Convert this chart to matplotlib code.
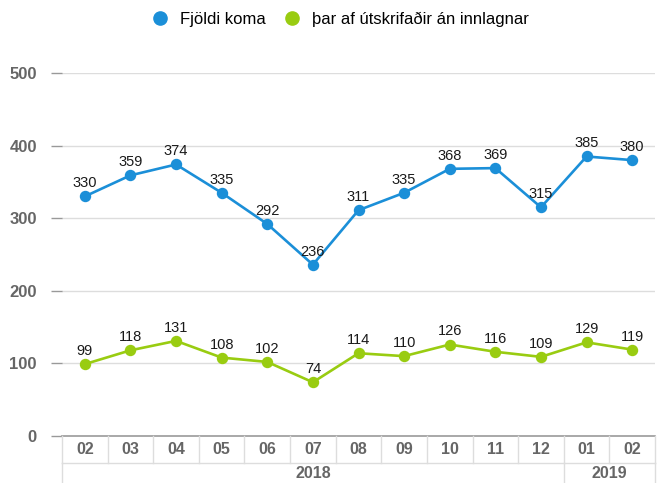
import matplotlib
matplotlib.use("Agg")
import matplotlib.pyplot as plt
from matplotlib.lines import Line2D

months = ["02", "03", "04", "05", "06", "07", "08", "09", "10", "11", "12", "01", "02"]
years = ["2018", "2019"]
year_counts = [11, 2]
fjoldi_koma = [330, 359, 374, 335, 292, 236, 311, 335, 368, 369, 315, 385, 380]
utskrifadir = [99, 118, 131, 108, 102, 74, 114, 110, 126, 116, 109, 129, 119]
series_names = ["Fjöldi koma", "þar af útskrifaðir án innlagnar"]
y_ticks = [0, 100, 200, 300, 400, 500]

blue = "#1b8fd8"
green = "#99cc11"
grid_c = "#dddddd"
text_c = "#666666"

plt.rcParams['font.family'] = ['Liberation Sans', 'DejaVu Sans']

W, H = 671, 483
fig = plt.figure(figsize=(W / 100, H / 100), dpi=100)
x0, x1 = 62, 655
y0, y1 = 436, 73
ax = fig.add_axes([x0 / W, 1 - y0 / H, (x1 - x0) / W, (y0 - y1) / H])

n = len(months)
xs = list(range(n))
ax.set_xlim(-0.5, n - 0.5)
ax.set_ylim(0, 500)

for yt in y_ticks[1:]:
    ax.axhline(yt, color=grid_c, lw=1, zorder=0)
ax.axhline(0, color="#999999", lw=1.2, zorder=1, clip_on=False)

for vals, col in [(fjoldi_koma, blue), (utskrifadir, green)]:
    ax.plot(xs, vals, color=col, lw=1.9, marker="o", ms=7.2, zorder=3, clip_on=False)
    for x, v in zip(xs, vals):
        ax.annotate(str(v), (x, v), xytext=(0, 6.5), textcoords="offset points",
                    ha="center", va="baseline", fontsize=10.5, color="#1a1a1a", zorder=4)

ax.set_yticks(y_ticks)
ax.set_yticklabels([str(t) for t in y_ticks], fontsize=12, fontweight="bold", color=text_c)
ax.tick_params(axis="y", length=8, width=1, color="#999999", pad=10, direction="out")
ax.tick_params(axis="x", bottom=False, labelbottom=False)
for s in ax.spines.values():
    s.set_visible(False)

# category boxes (figure pixel coords)
def fx(px):
    return px / W

def fy(py):
    return 1 - py / H

cw = (x1 - x0) / n
row1_top, row1_bot, row2_bot = 436, 463, 483
line_kw = dict(color=grid_c, lw=1, transform=fig.transFigure)
fig.add_artist(Line2D([fx(x0), fx(x1)], [fy(row1_bot), fy(row1_bot)], **line_kw))
for i in range(n + 1):
    px = x0 + i * cw
    fig.add_artist(Line2D([fx(px), fx(px)], [fy(row1_top), fy(row1_bot)], **line_kw))
for i, m in enumerate(months):
    fig.text(fx(x0 + (i + 0.5) * cw), fy((row1_top + row1_bot) / 2), m, ha="center", va="center",
             fontsize=11.5, fontweight="bold", color=text_c)
bounds = [0]
for c in year_counts:
    bounds.append(bounds[-1] + c)
for b in bounds:
    px = x0 + b * cw
    fig.add_artist(Line2D([fx(px), fx(px)], [fy(row1_bot), fy(row2_bot)], **line_kw))
for yname, a, b in zip(years, bounds[:-1], bounds[1:]):
    fig.text(fx(x0 + (a + b) / 2 * cw), fy((row1_bot + row2_bot) / 2 + 1), yname, ha="center", va="center",
             fontsize=11.5, fontweight="bold", color=text_c)

handles = [Line2D([], [], color=blue, marker="o", ls="none", ms=9.5),
           Line2D([], [], color=green, marker="o", ls="none", ms=9.5)]
fig.legend(handles, series_names, loc="center", bbox_to_anchor=(340 / W, 1 - 19 / H), ncol=2,
           frameon=False, fontsize=12, handletextpad=0.7, columnspacing=1.1, handlelength=1.0)

fig.savefig("out.png", dpi=100)
